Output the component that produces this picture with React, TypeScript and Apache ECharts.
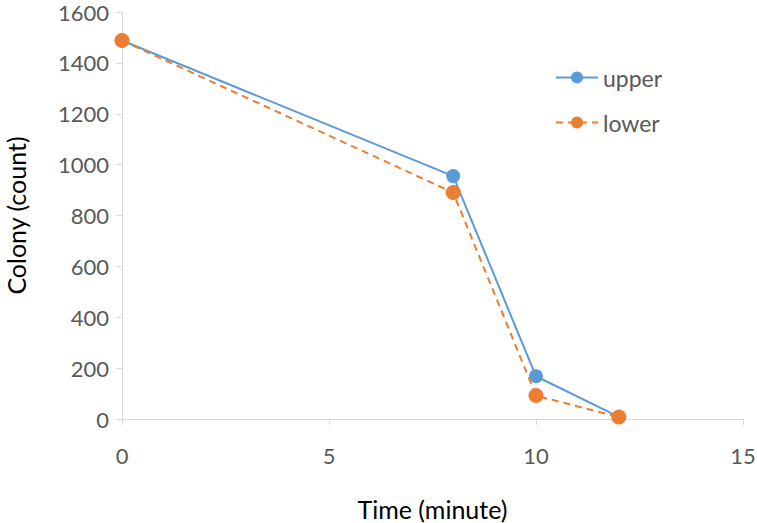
import React, { useEffect, useRef } from "react";
import * as echarts from "echarts";

const timeMinutes = [0, 8, 10, 12];
const upperValues = [1488, 955, 168, 8];
const lowerValues = [1488, 890, 92, 8];
const seriesNames = ["upper", "lower"];

export default function App() {
  const ref = useRef<HTMLDivElement>(null);
  useEffect(() => {
    if (!ref.current) return;
    const chart = echarts.init(ref.current, null, { renderer: "svg" });
    const font = "Lato, 'Open Sans', sans-serif";
    chart.setOption({
      animation: false,
      backgroundColor: "#ffffff",
      grid: { left: 122, right: 14, top: 12, bottom: 104, containLabel: false, outerBoundsMode: "none" },
      legend: {
        orient: "vertical",
        left: 550,
        top: 61,
        itemGap: 22,
        itemWidth: 42,
        itemHeight: 15,
        textStyle: { fontFamily: font, fontSize: 23, color: "#595959" },
        data: seriesNames,
      },
      xAxis: {
        type: "value",
        min: 0,
        max: 15,
        interval: 5,
        name: "Time (minute)",
        nameLocation: "middle",
        nameGap: 77,
        nameTextStyle: { fontFamily: font, fontSize: 25, color: "#000000" },
        axisLine: { show: true, onZero: true, lineStyle: { color: "#d9d9d9", width: 1 } },
        axisTick: { show: true, length: 6, lineStyle: { color: "#d9d9d9" } },
        axisLabel: { fontFamily: font, fontSize: 22, color: "#595959", margin: 25 },
        splitLine: { show: false },
      },
      yAxis: {
        type: "value",
        min: 0,
        max: 1600,
        interval: 200,
        name: "Colony (count)",
        nameLocation: "middle",
        nameGap: 94,
        nameTextStyle: { fontFamily: font, fontSize: 25, color: "#000000" },
        axisLine: { show: true, lineStyle: { color: "#d9d9d9", width: 1 } },
        axisTick: { show: true, length: 6, lineStyle: { color: "#d9d9d9" } },
        axisLabel: {
          fontFamily: font,
          fontSize: 22,
          color: "#595959",
          margin: 13,
          formatter: (v: number) => String(v),
        },
        splitLine: { show: false },
      },
      series: [
        {
          name: seriesNames[0],
          type: "line",
          data: timeMinutes.map((t, i) => [t, upperValues[i]]),
          symbol: "circle",
          symbolSize: 14,
          itemStyle: { color: "#5b9bd5" },
          lineStyle: { color: "#5b9bd5", width: 2 },
          z: 2,
        },
        {
          name: seriesNames[1],
          type: "line",
          data: timeMinutes.map((t, i) => [t, lowerValues[i]]),
          symbol: "circle",
          symbolSize: 15,
          itemStyle: { color: "#ed7d31" },
          lineStyle: { color: "#ed7d31", width: 2, type: [7, 5] },
          z: 3,
        },
      ],
    });
    return () => chart.dispose();
  }, []);
  return (
    <div
      ref={ref}
      style={{ position: "fixed", left: 0, top: 0, width: 757, height: 523 }}
    />
  );
}
